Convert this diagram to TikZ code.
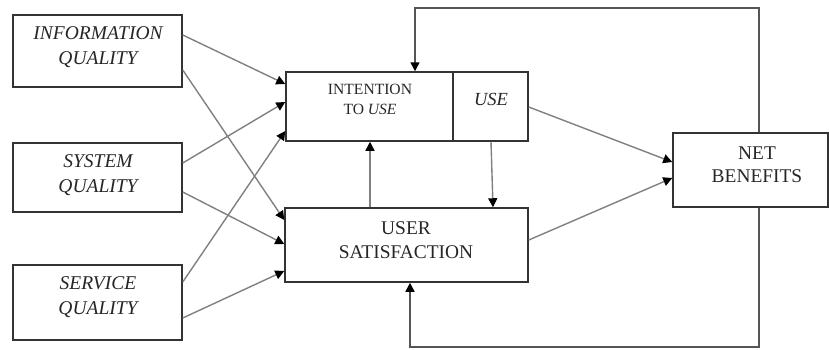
\documentclass[tikz,border=0pt]{standalone}
\usepackage{fontspec}
\setmainfont{Liberation Serif}
\usetikzlibrary{arrows.meta,calc}

\definecolor{boxline}{HTML}{333333}
\definecolor{linkline}{HTML}{808080}
\definecolor{loopline}{HTML}{555555}

\tikzset{
  box/.style={draw=boxline, line width=1.5pt, rectangle, inner sep=0pt},
  lbl/.style={align=center, inner sep=0pt, text=black!85},
  leftlbl/.style={lbl, font=\fontsize{19.5}{25}\selectfont\itshape},
  biglbl/.style={lbl, font=\fontsize{19.4}{24}\selectfont},
  link/.style={draw=linkline, line width=1.4pt,
    -{Triangle[length=9pt,width=9pt,color=black]}},
  loop/.style={draw=loopline, line width=1.5pt,
    -{Triangle[length=9pt,width=9pt,color=black]}},
}

\begin{document}
\begin{tikzpicture}[x=1pt,y=-1pt]
\useasboundingbox (0,0) rectangle (829,349);

% left-hand quality boxes
\node[box, minimum width=169pt, minimum height=72pt] (info) at (97.5,51) {};
\node[box, minimum width=169pt, minimum height=69pt] (sys)  at (97.5,177.5) {};
\node[box, minimum width=169pt, minimum height=75pt] (serv) at (97.5,302.5) {};
\node[leftlbl] (infoT) at (98,47.5) {INFORMATION\\QUALITY};
\node[leftlbl] (sysT)  at (98,175.5) {SYSTEM\\QUALITY};
\node[leftlbl] (servT) at (98,297.5) {SERVICE\\QUALITY};

% intention to use / use split box
\node[box, minimum width=167pt, minimum height=69pt] (iu)  at (369.5,106.5) {};
\node[box, minimum width=75pt,  minimum height=69pt] (use) at (490.5,106.5) {};
\node[lbl, font=\fontsize{15.6}{20}\selectfont] (iuT) at (370,99)
  {INTENTION\\TO \textit{USE}};
\node[lbl, font=\fontsize{18.5}{22}\selectfont\itshape] (useT) at (491,99.5) {USE};

% user satisfaction
\node[box, minimum width=243pt, minimum height=74pt] (us) at (406.5,245) {};
\node[biglbl] (usT) at (406,240) {USER\\SATISFACTION};

% net benefits
\node[box, minimum width=155pt, minimum height=74pt] (nb) at (750.5,170) {};
\node[biglbl, font=\fontsize{19.4}{23}\selectfont] (nbT) at (757,165) {NET\\BENEFITS};

% quality dimensions into use and satisfaction
\draw[link] (info.east |- 0,35)  -- (iu.west |- 0,84);
\draw[link] (info.east |- 0,70)  -- (us.west |- 0,220);
\draw[link] (sys.east |- 0,163)  -- (iu.west |- 0,102);
\draw[link] (sys.east |- 0,192)  -- (us.west |- 0,244);
\draw[link] (serv.east |- 0,282) -- (iu.west |- 0,131);
\draw[link] (serv.east |- 0,318) -- (us.west |- 0,271);

% between use and satisfaction
\draw[link] (us.north -| 370,0) -- (iu.south -| 370,0);
\draw[link] (use.south -| 491,0) -- (us.north -| 493,0);

% into net benefits
\draw[link] (use.east |- 0,107) -- (nb.west |- 0,162);
\draw[link] (us.east |- 0,240)  -- (nb.west |- 0,178);

% feedback loops from net benefits
\coordinate (topR) at (759,8);
\coordinate (topL) at (415,8);
\coordinate (botR) at (759,347);
\coordinate (botL) at (410,347);
\draw[loop] (nb.north -| topR) -- (topR) -- (topL) -- (iu.north -| topL);
\draw[loop] (nb.south -| botR) -- (botR) -- (botL) -- (us.south -| botL);
\end{tikzpicture}
\end{document}
